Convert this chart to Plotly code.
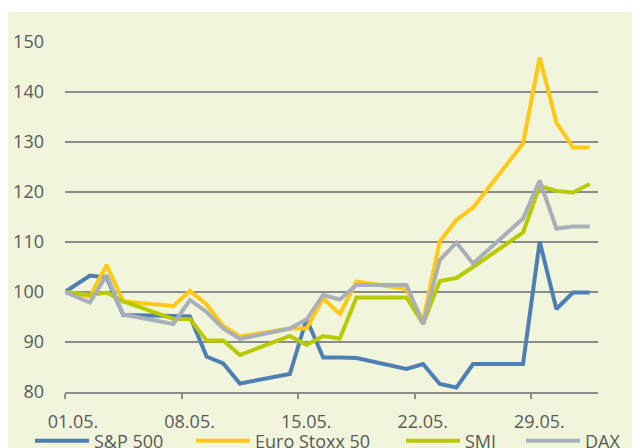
import pandas as pd
import plotly.graph_objects as go

# ---- data ----
base_date = "2018-05-01"
trading_days = ["2018-05-02", "2018-05-03", "2018-05-04", "2018-05-07", "2018-05-08",
                "2018-05-09", "2018-05-10", "2018-05-11", "2018-05-14", "2018-05-15",
                "2018-05-16", "2018-05-17", "2018-05-18", "2018-05-21", "2018-05-22",
                "2018-05-23", "2018-05-24", "2018-05-25", "2018-05-28", "2018-05-29",
                "2018-05-30", "2018-05-31", "2018-06-01"]

sp500 = [100, 103.3, 102.9, 95.4, 95.2, 95.1, 87.1, 85.7, 81.7, 83.6, 94.6, 86.9, 86.9,
         86.8, 84.6, 85.6, 81.6, 80.9, 85.6, 85.6, 110.1, 96.6, 99.9, 99.9]
eurostoxx = [100, 99.1, 105.4, 98.1, 97.2, 100.2, 97.5, 93.2, 91.1, 92.7, 92.7, 98.7, 95.6,
             102.1, 100.6, 94.3, 110.1, 114.4, 116.9, 129.7, 146.9, 133.9, 128.9, 128.9]
smi = [100, 99.4, 99.9, 98.1, 94.6, 94.6, 90.3, 90.3, 87.4, 91.2, 89.4, 91.2, 90.7,
       98.9, 98.9, 93.6, 102.2, 102.8, 105.0, 111.9, 121.2, 120.2, 119.9, 121.6]
dax = [100, 97.9, 103.4, 95.5, 93.6, 98.4, 96.0, 92.7, 90.6, 92.7, 94.5, 99.4, 98.5,
       101.4, 101.4, 93.6, 106.4, 109.9, 105.7, 114.7, 122.3, 112.7, 113.1, 113.1]

series_names = ["S&P 500", "Euro Stoxx 50", "SMI", "DAX"]
series_values = [sp500, eurostoxx, smi, dax]

tick_dates = ["2018-05-01", "2018-05-08", "2018-05-15", "2018-05-22", "2018-05-29"]
tick_labels = ["01.05.", "08.05.", "15.05.", "22.05.", "29.05."]
y_ticks = [80, 90, 100, 110, 120, 130, 140, 150]

# ---- styling ----
colors = ["#4D7FB5", "#FFC913", "#B9CB00", "#A9AFBA"]
panel = "#F1F5DC"
grid = "#8C8C8C"
txt = "#595959"
font_family = "Open Sans, Noto Sans, sans-serif"

# x positions: base value at start of 01.05., trading days at the middle of their day
x_vals = [pd.Timestamp(base_date)] + [pd.Timestamp(d) + pd.Timedelta(hours=12) for d in trading_days]

fig = go.Figure()
legend_ids = ["legend", "legend2", "legend3", "legend4"]
for name, vals, col, lg in zip(series_names, series_values, colors, legend_ids):
    fig.add_trace(go.Scatter(x=x_vals, y=vals, mode="lines", name=name,
                             line=dict(color=col, width=4), legend=lg))

L, R, T, B = 57, 50, 34, 64
PW, PH = 640 - L - R, 448 - T - B

# green panel behind everything
fig.add_shape(type="rect", xref="paper", yref="paper",
              x0=(-1 - L) / PW, x1=1.3, y0=-0.4, y1=(PH + T - 4) / PH,
              fillcolor=panel, line=dict(width=0), layer="below")

legend_common = dict(orientation="h", yanchor="middle", yref="container",
                     y=(448 - 433) / 448, xanchor="left", xref="container",
                     bgcolor="rgba(0,0,0,0)", itemwidth=54,
                     font=dict(family=font_family, size=18, color=txt))
legend_x = [36, 197, 407, 527]

layout_legends = {}
for lg, px in zip(legend_ids, legend_x):
    layout_legends[lg] = dict(legend_common, x=(px - 14) / 640)

fig.update_layout(
    width=640, height=448,
    margin=dict(l=L, r=R, t=T, b=B),
    paper_bgcolor="white",
    plot_bgcolor="rgba(0,0,0,0)",
    font=dict(family=font_family, size=18, color=txt),
    showlegend=True,
    xaxis=dict(type="date", range=["2018-05-01", "2018-06-02"],
               tickvals=tick_dates, ticktext=tick_labels,
               ticks="outside", ticklen=5, tickwidth=1.5, tickcolor=grid,
               ticklabelshift=8, ticklabelstandoff=8, automargin=False,
               showline=True, linecolor=grid, linewidth=1.5,
               showgrid=False, zeroline=False,
               tickfont=dict(family=font_family, size=18, color=txt)),
    yaxis=dict(range=[80, 150], tickvals=y_ticks, automargin=False,
               showgrid=True, gridcolor=grid, gridwidth=1.5,
               zeroline=False, showline=False, ticks="",
               ticklabelstandoff=20,
               tickfont=dict(family=font_family, size=18, color=txt)),
    **layout_legends,
)

fig.write_html("out.html")
